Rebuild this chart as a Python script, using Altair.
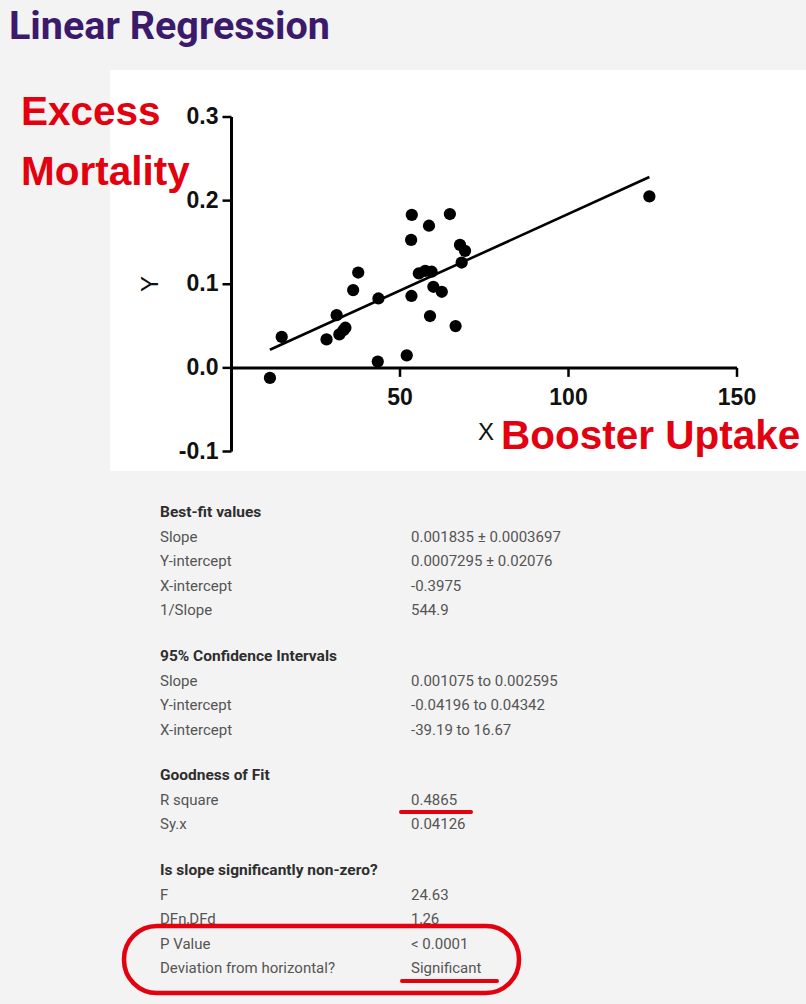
import altair as alt
import pandas as pd

# Booster uptake (x) against excess mortality (y), one point per region
uptake = [11.4, 14.9, 28.2, 31.2, 32.0, 33.2, 33.8, 36.1, 37.6, 43.6, 43.4, 52.0, 53.5, 53.3,
          53.4, 55.6, 57.5, 58.6, 59.4, 58.9, 59.9, 62.4, 64.8, 66.5, 67.8, 69.3, 68.3, 124.0]
mortality = [-0.012, 0.037, 0.034, 0.063, 0.040, 0.045, 0.048, 0.093, 0.114, 0.083, 0.0075, 0.015, 0.183, 0.153,
             0.086, 0.113, 0.116, 0.170, 0.115, 0.062, 0.097, 0.091, 0.184, 0.050, 0.147, 0.140, 0.126, 0.205]

# Best-fit line parameters
slope = 0.001835
intercept = 0.0007295

# Axis ticks
x_ticks = [50, 100, 150]
x_tick_labels = ["50", "100", "150"]
y_ticks = [-0.1, 0.0, 0.1, 0.2, 0.3]
y_tick_labels = ["-0.1", "0.0", "0.1", "0.2", "0.3"]

# Regression summary table
sec_headers = ["Best-fit values", "95% Confidence Intervals", "Goodness of Fit",
               "Is slope significantly non-zero?"]
sec_labels = [
    ["Slope", "Y-intercept", "X-intercept", "1/Slope"],
    ["Slope", "Y-intercept", "X-intercept"],
    ["R square", "Sy.x"],
    ["F", "DFn,DFd", "P Value", "Deviation from horizontal?"],
]
sec_values = [
    ["0.001835 \u00b1 0.0003697", "0.0007295 \u00b1 0.02076", "-0.3975", "544.9"],
    ["0.001075 to 0.002595", "-0.04196 to 0.04342", "-39.19 to 16.67"],
    ["0.4865", "0.04126"],
    ["24.63", "1,26", "< 0.0001", "Significant"],
]

RED = "#e3000f"
PLOT_FONT = "Liberation Sans"
TABLE_FONT = "Roboto"

xs = alt.Scale(domain=[0, 150], range=[231.5, 737])
ys = alt.Scale(domain=[-0.1, 0.3], range=[451.5, 117])

pts = pd.DataFrame({"x": uptake, "y": mortality})
x_lo, x_hi = min(uptake), max(uptake)
fit = pd.DataFrame({"x": [x_lo, x_hi], "y": [intercept + slope * x_lo, intercept + slope * x_hi]})
yt = pd.DataFrame({"v": y_ticks, "lab": y_tick_labels, "zero": 0.0})
xt = pd.DataFrame({"v": x_ticks, "lab": x_tick_labels, "zero": 0.0})
one = pd.DataFrame({"k": [0]})

points = alt.Chart(pts).mark_circle(size=150, color="black", opacity=1).encode(
    x=alt.X("x:Q", scale=xs, axis=None), y=alt.Y("y:Q", scale=ys, axis=None))
line = alt.Chart(fit).mark_line(color="black", strokeWidth=2.6).encode(
    x=alt.X("x:Q", scale=xs, axis=None), y=alt.Y("y:Q", scale=ys, axis=None))

y_axis_line = alt.Chart(pd.DataFrame({"zero": [0.0], "lo": [-0.1], "hi": [0.3]})).mark_rule(
    color="black", strokeWidth=3).encode(
    x=alt.X("zero:Q", scale=xs, axis=None), y=alt.Y("lo:Q", scale=ys, axis=None), y2="hi:Q")
x_axis_line = alt.Chart(pd.DataFrame({"lo": [0.0], "hi": [150.0], "zero": [0.0]})).mark_rule(
    color="black", strokeWidth=3).encode(
    x=alt.X("lo:Q", scale=xs, axis=None), x2="hi:Q", y=alt.Y("zero:Q", scale=ys, axis=None))

y_tick_marks = alt.Chart(yt).mark_rule(color="black", strokeWidth=2.5, xOffset=-9).encode(
    x=alt.X("zero:Q", scale=xs, axis=None), x2="zero:Q", y=alt.Y("v:Q", scale=ys, axis=None))
x_tick_marks = alt.Chart(xt).mark_rule(color="black", strokeWidth=2.5, y2Offset=9).encode(
    x=alt.X("v:Q", scale=xs, axis=None), y=alt.Y("zero:Q", scale=ys, axis=None), y2="zero:Q")

y_tick_text = alt.Chart(yt).mark_text(align="right", baseline="middle", dx=-13, font=PLOT_FONT,
                                      fontSize=23, fontWeight="bold", color="#111").encode(
    x=alt.X("zero:Q", scale=xs, axis=None), y=alt.Y("v:Q", scale=ys, axis=None), text="lab:N")
x_tick_text = alt.Chart(xt).mark_text(align="center", baseline="middle", dy=30, font=PLOT_FONT,
                                      fontSize=23, fontWeight="bold", color="#111").encode(
    x=alt.X("v:Q", scale=xs, axis=None), y=alt.Y("zero:Q", scale=ys, axis=None), text="lab:N")

plot = alt.layer(y_axis_line, x_axis_line, y_tick_marks, x_tick_marks,
                 y_tick_text, x_tick_text, line, points)

# White panel behind the scatter plot
panel = alt.Chart(one).mark_rect(color="white").encode(
    x=alt.value(110), x2=alt.value(806), y=alt.value(70), y2=alt.value(471))


def label(text, x, y, size, color, weight="normal", font=PLOT_FONT, align="left", angle=0):
    return alt.Chart(one).mark_text(text=text, align=align, baseline="middle", font=font,
                                    fontSize=size, fontWeight=weight, color=color, angle=angle).encode(
        x=alt.value(x), y=alt.value(y))


title = label("Linear Regression", 9, 27, 39.5, "#3b1a6c", weight="bold", font="Roboto")
excess = label("Excess", 21, 113, 40.5, RED, weight="bold")
mort = label("Mortality", 21, 173, 40.5, RED, weight="bold")
y_title = label("Y", 151, 284, 24, "#111", align="center", angle=270)
x_title = label("X", 486, 433, 24, "#111", align="center")
booster = label("Booster Uptake", 501, 437, 40.5, RED, weight="bold")

# Table rows: slot index sets vertical placement, each section separated by a gap
rows = []
slot = 0.0
for s, head in enumerate(sec_headers):
    rows.append({"slot": slot, "label": head, "value": "", "head": 1})
    slot += 1
    for lab, val in zip(sec_labels[s], sec_values[s]):
        rows.append({"slot": slot, "label": lab, "value": val, "head": 0})
        slot += 1
    slot += 0.85
tab = pd.DataFrame(rows)
ts = alt.Scale(domain=[0, 1], range=[512, 536.6])

tab_head = alt.Chart(tab).transform_filter("datum.head == 1").mark_text(
    align="left", baseline="middle", font=TABLE_FONT, fontSize=15.5, fontWeight="bold", color="#2e2e2e").encode(
    x=alt.value(160), y=alt.Y("slot:Q", scale=ts, axis=None), text="label:N")
tab_lab = alt.Chart(tab).transform_filter("datum.head == 0").mark_text(
    align="left", baseline="middle", font=TABLE_FONT, fontSize=15, color="#555").encode(
    x=alt.value(160), y=alt.Y("slot:Q", scale=ts, axis=None), text="label:N")
tab_val = alt.Chart(tab).transform_filter("datum.head == 0").mark_text(
    align="left", baseline="middle", font=TABLE_FONT, fontSize=15, color="#555").encode(
    x=alt.value(411), y=alt.Y("slot:Q", scale=ts, axis=None), text="value:N")
table = alt.layer(tab_head, tab_lab, tab_val)

# Hand-drawn style red emphasis
under_r2 = alt.Chart(one).mark_rule(color=RED, strokeWidth=4, strokeCap="round").encode(
    x=alt.value(401), x2=alt.value(471), y=alt.value(812))
under_sig = alt.Chart(one).mark_rule(color=RED, strokeWidth=4, strokeCap="round").encode(
    x=alt.value(402), x2=alt.value(497), y=alt.value(981))
loop = alt.Chart(one).mark_rect(filled=False, stroke=RED, strokeWidth=4.5, cornerRadius=33).encode(
    x=alt.value(124), x2=alt.value(519), y=alt.value(926), y2=alt.value(993))

chart = alt.layer(
    panel, plot, title, excess, mort, y_title, x_title, booster, table, under_r2, under_sig, loop
).resolve_scale(x="independent", y="independent").properties(
    width=806, height=1004, padding=0, background="#f3f3f3",
    autosize=alt.AutoSizeParams(type="none"),
).configure_view(stroke=None)

chart.save("out.html", embed_options={"renderer": "svg", "actions": False})
